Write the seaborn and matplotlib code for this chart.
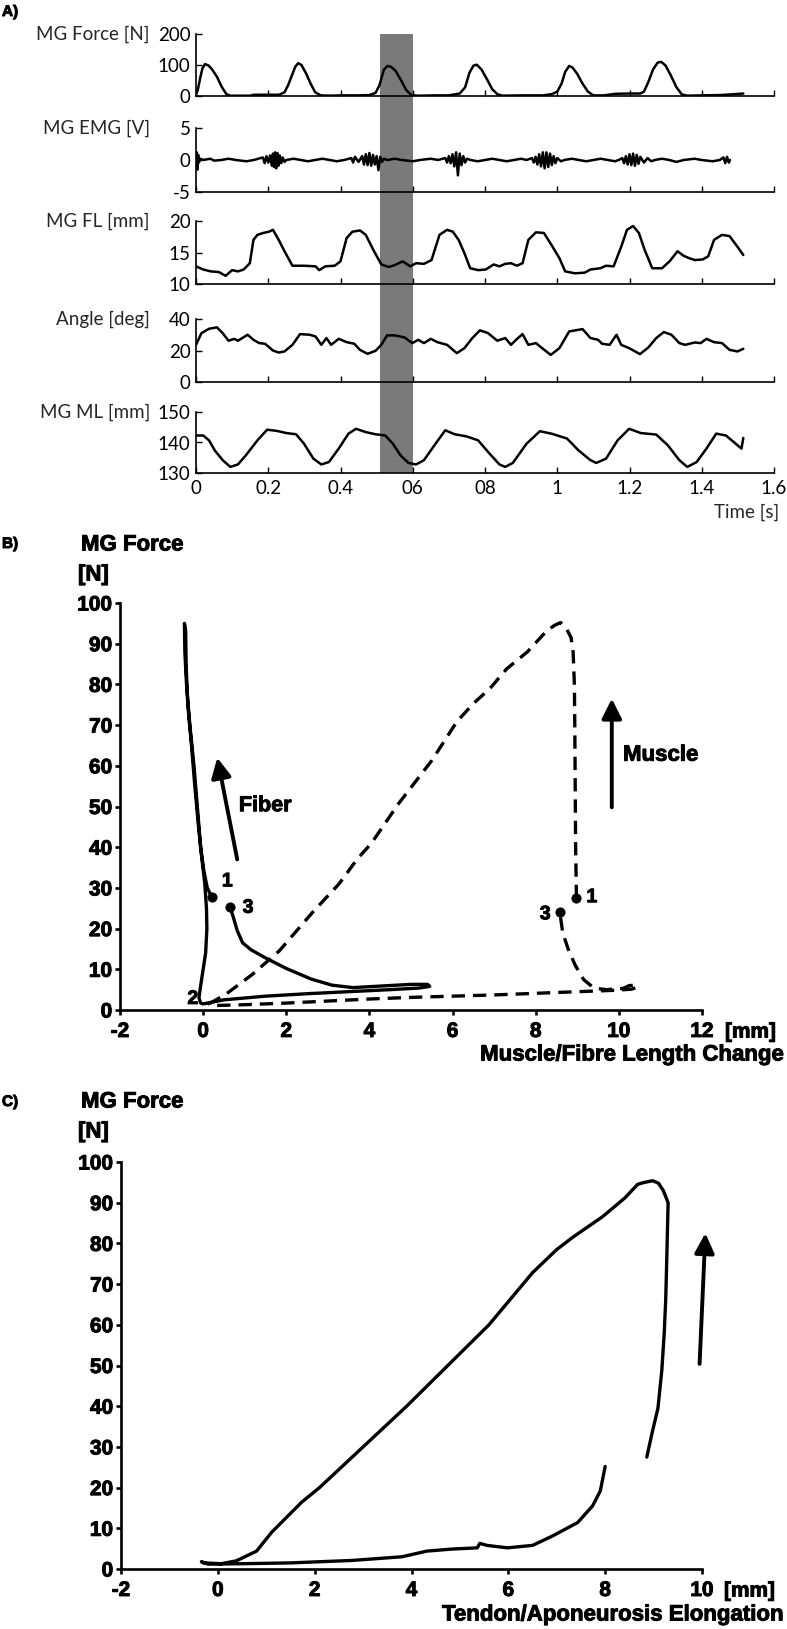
import matplotlib
matplotlib.use("Agg")
import matplotlib.pyplot as plt
import matplotlib.transforms as mtransforms
import matplotlib.patheffects as pe
from matplotlib.patches import Rectangle
import seaborn as sns

# ---------------- panel A : time series ----------------
force_time = [0.000, 0.005, 0.012, 0.018, 0.025, 0.035, 0.045, 0.058, 0.071, 0.084, 0.095, 0.12, 0.15, 0.16,
              0.20, 0.23, 0.245, 0.255, 0.265, 0.275, 0.283, 0.292, 0.305, 0.318, 0.33, 0.345, 0.37, 0.40,
              0.45, 0.48, 0.497, 0.508, 0.52, 0.53, 0.54, 0.552, 0.567, 0.582, 0.597, 0.62, 0.66, 0.70,
              0.73, 0.745, 0.757, 0.768, 0.777, 0.79, 0.805, 0.82, 0.835, 0.85, 0.90, 0.96, 0.985, 1.0,
              1.012, 1.022, 1.033, 1.042, 1.055, 1.07, 1.085, 1.10, 1.13, 1.16, 1.20, 1.23, 1.24, 1.252,
              1.265, 1.278, 1.288, 1.30, 1.315, 1.33, 1.345, 1.36, 1.40, 1.45, 1.48, 1.515]
force_n = [5, 20, 60, 90, 103, 98, 85, 62, 30, 6, 1, 1, 1, 4,
           4, 4, 12, 35, 65, 95, 106, 100, 72, 38, 12, 2, 1, 2,
           2, 3, 10, 35, 85, 97, 94, 82, 52, 19, 2, 1, 2, 2,
           8, 28, 75, 98, 101, 86, 55, 22, 5, 1, 2, 2, 6, 14,
           40, 78, 97, 92, 72, 40, 14, 2, 2, 7, 8, 8, 14, 45,
           85, 108, 110, 98, 65, 28, 5, 1, 2, 3, 5, 8]

emg_time = [0.000, 0.002, 0.004, 0.006, 0.008, 0.012, 0.02, 0.04, 0.05, 0.07, 0.09, 0.11, 0.14, 0.16,
            0.185, 0.19, 0.195, 0.20, 0.205, 0.21, 0.213, 0.216, 0.219, 0.222, 0.225, 0.228, 0.232, 0.236,
            0.24, 0.245, 0.25, 0.27, 0.29, 0.31, 0.33, 0.35, 0.37, 0.39, 0.41,
            0.43, 0.435, 0.44, 0.45, 0.46, 0.465, 0.47, 0.475, 0.48, 0.485, 0.49, 0.495, 0.50, 0.505,
            0.51, 0.515, 0.52, 0.53, 0.55, 0.57, 0.60, 0.62, 0.65, 0.67,
            0.69, 0.695, 0.70, 0.705, 0.71, 0.715, 0.72, 0.725, 0.73, 0.735, 0.74, 0.745, 0.75, 0.76,
            0.78, 0.80, 0.82, 0.84, 0.86, 0.88, 0.90, 0.915,
            0.93, 0.935, 0.94, 0.945, 0.95, 0.955, 0.96, 0.965, 0.97, 0.975, 0.98, 0.985, 0.99, 0.995,
            1.0, 1.01, 1.02, 1.04, 1.06, 1.08, 1.10, 1.12, 1.14, 1.16, 1.17,
            1.18, 1.185, 1.19, 1.195, 1.20, 1.205, 1.21, 1.215, 1.22, 1.225, 1.23, 1.24, 1.25, 1.26,
            1.27, 1.29, 1.31, 1.33, 1.35, 1.38, 1.40, 1.43, 1.45,
            1.46, 1.465, 1.47, 1.475, 1.478]
emg_volts = [0, 1.2, -1.5, 0.8, -0.4, 0.2, 0, 0.2, -0.1, 0, 0.2, 0, -0.2, 0,
             0.4, -0.5, 0.6, -0.4, 0.7, -0.9, 1.0, -1.1, 1.2, -1.3, 1.1, -0.9, 0.7, -0.5,
             0.4, -0.3, 0, 0.2, 0, -0.2, 0, 0.2, 0, -0.2, 0,
             0.3, -0.4, 0.5, -0.3, 0.6, -0.7, 0.9, -0.8, 1.1, -0.9, 0.8, -0.7, 0.6, -1.6,
             0.5, -0.3, 0.2, 0, 0.2, 0, -0.2, 0, 0.2, 0,
             0.3, -0.4, 0.6, -0.5, 0.9, -1.0, 1.2, -2.4, 1.0, -0.8, 0.6, -0.4, 0.2, 0,
             -0.2, 0, 0.2, 0, -0.2, 0, 0.2, 0,
             0.3, -0.4, 0.5, -0.7, 0.9, -1.0, 1.2, -1.3, 1.2, -1.1, 1.0, -0.8, 0.6, -0.5,
             0.3, -0.2, 0, 0.2, 0, -0.2, 0, 0.2, 0, -0.2, 0,
             0.3, -0.5, 0.6, -0.7, 0.9, -0.8, 1.0, -0.9, 0.8, -0.6, 0.5, -0.4, 0.3, -0.2,
             0, 0.2, 0, -0.3, 0, 0.2, 0, -0.2, 0,
             0.4, -0.5, 0.5, -0.4, 0]

fl_time = [0.0, 0.02, 0.041, 0.063, 0.082, 0.10, 0.116, 0.132, 0.149, 0.159, 0.17, 0.186, 0.202, 0.213,
           0.229, 0.245, 0.267, 0.299, 0.331, 0.341, 0.358, 0.384, 0.40, 0.417, 0.433, 0.454, 0.47, 0.491,
           0.513, 0.534, 0.55, 0.572, 0.593, 0.609, 0.631, 0.652, 0.674, 0.695, 0.711, 0.727, 0.743, 0.759,
           0.781, 0.802, 0.824, 0.84, 0.856, 0.872, 0.888, 0.904, 0.92, 0.941, 0.963, 0.984, 1.006, 1.022,
           1.049, 1.076, 1.092, 1.119, 1.135, 1.156, 1.177, 1.193, 1.21, 1.226, 1.242, 1.263, 1.29, 1.311,
           1.333, 1.349, 1.365, 1.381, 1.403, 1.418, 1.434, 1.456, 1.477, 1.499, 1.515]
fl_mm = [12.8, 12.3, 12.0, 11.9, 11.3, 12.2, 12.0, 12.3, 13.3, 17.0, 17.8, 18.1, 18.3, 18.6,
         17.0, 15.2, 12.9, 12.9, 12.8, 12.2, 12.8, 12.9, 13.6, 17.3, 18.3, 18.5, 17.8, 15.4,
         13.1, 12.7, 13.0, 13.6, 12.8, 13.3, 13.2, 13.8, 17.8, 18.6, 18.3, 17.0, 14.9, 12.5,
         12.2, 12.3, 13.1, 12.8, 13.2, 13.3, 12.9, 13.3, 17.0, 18.2, 18.1, 16.2, 14.1, 12.0,
         11.7, 11.8, 12.3, 12.5, 12.9, 12.8, 15.9, 18.6, 19.2, 18.1, 15.4, 12.5, 12.5, 13.6,
         15.2, 14.5, 14.1, 13.8, 13.9, 14.4, 17.0, 17.8, 17.6, 15.9, 14.6]

angle_time = [0.0, 0.015, 0.036, 0.058, 0.074, 0.09, 0.106, 0.116, 0.143, 0.159, 0.175, 0.191, 0.213, 0.229,
              0.245, 0.267, 0.288, 0.315, 0.331, 0.347, 0.361, 0.374, 0.395, 0.417, 0.438, 0.454, 0.475,
              0.497, 0.513, 0.529, 0.55, 0.577, 0.599, 0.615, 0.631, 0.65, 0.668, 0.695, 0.722, 0.743,
              0.765, 0.786, 0.808, 0.834, 0.856, 0.872, 0.886, 0.904, 0.92, 0.941, 0.958, 0.982, 1.006,
              1.033, 1.07, 1.092, 1.113, 1.124, 1.145, 1.164, 1.177, 1.199, 1.229, 1.252, 1.274, 1.295,
              1.316, 1.338, 1.354, 1.381, 1.397, 1.413, 1.434, 1.456, 1.477, 1.499, 1.515]
angle_deg = [23.6, 31, 33.8, 34.7, 31, 26.2, 27.4, 26.2, 30, 26.8, 24.7, 24.3, 20, 18.7,
             19.4, 23.6, 30.4, 30, 28.9, 23.6, 27.9, 23.6, 27.4, 25.3, 24.3, 20.4, 17.9,
             19.8, 23.6, 29.6, 29.6, 28.3, 24.7, 26.8, 24.7, 27.4, 25.3, 23.6, 18.3, 21.5,
             27.9, 32.8, 31.1, 26.2, 27.9, 23.6, 26.8, 30.4, 23.6, 24.7, 21.5, 17.2, 21.5,
             32.1, 33.6, 27.9, 26.8, 24.3, 23.6, 30, 23.6, 21.5, 17.7, 21.9, 27.9, 31.7,
             30, 24.7, 23.6, 25.1, 24.7, 27.4, 25.3, 24.7, 20.4, 19.4, 21.1]

ml_time = [0.0, 0.02, 0.036, 0.052, 0.074, 0.095, 0.116, 0.138, 0.17, 0.197, 0.224, 0.25, 0.277, 0.299,
           0.325, 0.347, 0.368, 0.395, 0.422, 0.443, 0.47, 0.497, 0.524, 0.545, 0.566, 0.588, 0.609,
           0.631, 0.663, 0.69, 0.716, 0.749, 0.781, 0.813, 0.84, 0.856, 0.877, 0.915, 0.952, 0.984,
           1.027, 1.059, 1.092, 1.108, 1.135, 1.167, 1.199, 1.231, 1.274, 1.306, 1.338, 1.36, 1.386,
           1.413, 1.44, 1.467, 1.494, 1.51, 1.515]
ml_mm = [142.3, 142.3, 140.7, 137.4, 134.2, 132.0, 132.8, 135.8, 140.7, 144.2, 143.8, 143.1, 142.7, 139.6,
         134.7, 132.8, 133.6, 138.0, 142.9, 144.5, 143.4, 142.7, 142.3, 139.6, 135.8, 133.3, 132.8,
         134.2, 139.6, 144.0, 142.7, 142.0, 140.7, 136.3, 132.8, 132.0, 133.3, 139.6, 143.7, 142.9,
         141.3, 137.4, 134.2, 133.3, 134.7, 140.7, 144.5, 143.1, 142.6, 139.1, 134.2, 132.0, 133.6,
         138.0, 142.9, 142.3, 139.6, 138.0, 141.5]

band_start, band_end = 0.51, 0.60
time_ticks = [0, 0.2, 0.4, 0.6, 0.8, 1.0, 1.2, 1.4, 1.6]
time_ticklabels = ["0", "0.2", "0.4", "06", "08", "1", "1.2", "1.4", "1.6"]

# ---------------- panel B : force vs length change ----------------
fiber_dx = [0.21, 0.10, 0.02, -0.06, -0.14, -0.22, -0.32, -0.40, -0.44, -0.45,
            -0.42, -0.41, -0.37, -0.28, -0.20, -0.12, -0.04, 0.04, 0.08, 0.09, 0.06, 0.0, -0.06, -0.10,
            -0.06, 0.0, 0.5, 1.5, 2.5, 3.5, 4.5, 5.2, 5.45, 5.4, 5.0, 4.3, 3.6, 3.1, 2.6, 2.0, 1.5,
            1.15, 0.95, 0.82, 0.72, 0.65]
fiber_force = [27.7, 30, 34, 40, 50, 60, 70, 80, 88, 95,
               93, 85, 75, 65, 55, 46, 38, 31, 25, 20, 14, 10, 6, 3,
               1.7, 1.5, 2.5, 3.4, 4.0, 4.5, 5.0, 5.4, 5.8, 6.3, 6.3, 5.9, 5.5, 6.1, 7.6, 10.2, 12.8,
               14.8, 16.5, 19.5, 23, 25.2]
muscle_dx = [8.98, 8.96, 8.95, 8.94, 8.93, 8.90, 8.85, 8.75, 8.60, 8.45, 8.25, 7.8, 7.3, 6.9, 6.5, 6.1,
             5.5, 4.7, 4.05, 3.7, 3.27, 2.65, 1.83, 1.19, 0.55, 0.14, 0.3, 1.0, 2.0, 3.0, 4.0, 5.0,
             6.0, 7.0, 8.0, 9.0, 9.8, 10.3, 10.45, 10.4, 10.25, 10.1, 9.7, 9.4, 9.15, 8.95, 8.78,
             8.65, 8.58]
muscle_force = [27.5, 40, 55, 70, 80, 88, 91.5, 93.5, 95.2, 94.5, 93, 88, 83.8, 79, 75.3, 70.8,
                61.3, 50.7, 41, 37, 31, 24.2, 14.5, 8.8, 3.9, 1.5, 1.1, 1.3, 1.7, 2.2, 2.7, 3.1,
                3.4, 3.7, 4.1, 4.5, 4.8, 5.1, 5.6, 6.1, 6.0, 5.3, 5.0, 5.4, 7.5, 11, 15,
                19, 24]
fiber_points_dx = [0.21, 0.65]
fiber_points_force = [27.7, 25.2]
muscle_points_dx = [8.98, 8.58]
muscle_points_force = [27.5, 24.0]

# ---------------- panel C : force vs tendon elongation ----------------
tendon_dx = [8.86, 8.98, 9.09, 9.17, 9.22, 9.25, 9.27, 9.29, 9.30, 9.20, 9.10, 8.98, 8.78, 8.67, 8.41,
             7.95, 7.33, 7.0, 6.5, 5.6, 3.9, 2.1, 1.73, 1.11, 0.8, 0.38, 0.07, -0.3, -0.34,
             -0.2, 0.5, 1.5, 2.77, 3.8, 4.32, 4.84, 5.36, 5.41, 5.56, 5.98, 6.5, 6.91, 7.43, 7.74,
             7.9, 8.0]
tendon_force = [27.5, 34, 39.5, 48.8, 58, 66, 75, 85, 90, 93, 94.8, 95.4, 94.9, 94.5, 91.2,
                86.6, 81.5, 78.5, 72.8, 60, 40, 20, 16.4, 9.0, 4.4, 2.0, 1.3, 1.5, 1.8,
                1.2, 1.3, 1.5, 2.1, 3.0, 4.4, 4.9, 5.2, 6.3, 5.8, 5.2, 5.8, 8.1, 11.4, 15.5,
                19.2, 25.2]

force_ticks = list(range(0, 101, 10))
b_xticks = [-2, 0, 2, 4, 6, 8, 10, 12]
c_xticks = [-2, 0, 2, 4, 6, 8, 10]

# ---------------- figure ----------------
sns.set_theme(style="ticks")
plt.rcParams["font.family"] = ["Lato", "DejaVu Sans"]
BOLD = ["Liberation Sans", "DejaVu Sans"]
HEAVY = [pe.withStroke(linewidth=0.7, foreground="black")]

W, H = 787, 1629
fig = plt.figure(figsize=(W / 100, H / 100), dpi=100)


def box(left, top, right, bottom):
    return [left / W, 1 - bottom / H, (right - left) / W, (bottom - top) / H]


def line(ax, x, y, lw, **kw):
    sns.lineplot(x=x, y=y, ax=ax, color="black", lw=lw, estimator=None, sort=False, **kw)


# panel A
a_specs = [
    (box(196, 34, 774, 96), force_time, force_n, (0, 200), [0, 100, 200], "MG Force [N]"),
    (box(196, 128, 774, 192), emg_time, emg_volts, (-5, 5), [-5, 0, 5], "MG EMG [V]"),
    (box(196, 221, 774, 284), fl_time, fl_mm, (10, 20), [10, 15, 20], "MG FL [mm]"),
    (box(196, 319, 774, 382), angle_time, angle_deg, (0, 40), [0, 20, 40], "Angle [deg]"),
    (box(196, 412, 774, 473), ml_time, ml_mm, (130, 150), [130, 140, 150], "MG ML [mm]"),
]
axes_a = []
for pos, tx, ty, ylim, yticks, label in a_specs:
    ax = fig.add_axes(pos)
    ax.set_facecolor("none")
    line(ax, tx, ty, 1.8)
    ax.set_xlim(0, 1.6)
    ax.set_ylim(*ylim)
    ax.set_yticks(yticks, labels=[str(v) for v in yticks])
    ax.set_xticks(time_ticks, labels=time_ticklabels)
    ax.tick_params(direction="in", length=4.5, width=1.0, labelsize=13.5, pad=4, colors="black")
    ax.tick_params(axis="x", labelbottom=False)
    sns.despine(ax=ax)
    for s in ("left", "bottom"):
        ax.spines[s].set_linewidth(1.2)
        ax.spines[s].set_color("black")
    ax.set_xlabel("")
    ax.set_ylabel("")
    tr = mtransforms.blended_transform_factory(fig.transFigure, ax.transData)
    ax.text(150 / W, yticks[-1], label, transform=tr, ha="right", va="center", fontsize=13.5)
    axes_a.append(ax)

axes_a[-1].tick_params(axis="x", labelbottom=True, pad=5)
fig.text(779 / W, 1 - 512 / H, "Time [s]", ha="right", va="center", fontsize=13.5)

band_tr = mtransforms.blended_transform_factory(axes_a[-1].transData, fig.transFigure)
fig.add_artist(Rectangle((band_start, 1 - 473 / H), band_end - band_start, (473 - 34) / H,
                         transform=band_tr, facecolor="#7a7a7a", edgecolor="none", zorder=-1))


def style_xy(ax, xticks):
    ax.set_ylim(0, 100)
    ax.set_yticks(force_ticks, labels=[str(v) for v in force_ticks])
    ax.set_xticks(xticks, labels=[str(v) for v in xticks])
    ax.set_xlim(xticks[0], xticks[-1])
    sns.despine(ax=ax)
    for s in ("left", "bottom"):
        ax.spines[s].set_linewidth(1.9)
        ax.spines[s].set_color("black")
    ax.tick_params(direction="out", length=3.6, width=1.9, colors="black")
    ax.tick_params(axis="y", pad=2)
    ax.tick_params(axis="x", pad=5)
    for lbl in ax.get_xticklabels() + ax.get_yticklabels():
        lbl.set_fontsize(15)
        lbl.set_fontweight("bold")
        lbl.set_family(BOLD)
        lbl.set_path_effects(HEAVY)
    ax.set_xlabel("")
    ax.set_ylabel("")


def arrow(ax, tail, tip):
    ax.annotate("", xy=tip, xytext=tail, annotation_clip=False,
                arrowprops=dict(arrowstyle="-|>,head_length=0.6,head_width=0.3", mutation_scale=20,
                                lw=2.8, color="black", shrinkA=0, shrinkB=0))


txt = dict(fontweight="bold", family=BOLD, color="black", path_effects=HEAVY)

# panel B
ax_b = fig.add_axes(box(120, 603, 702, 1010))
line(ax_b, fiber_dx, fiber_force, 2.4)
line(ax_b, muscle_dx, muscle_force, 2.4, linestyle=(0, (4, 2.4)))
sns.scatterplot(x=fiber_points_dx + muscle_points_dx, y=fiber_points_force + muscle_points_force,
                ax=ax_b, color="black", s=45, edgecolor="black", zorder=5)
style_xy(ax_b, b_xticks)
for s, xy, ha in [("1", (0.45, 31.5), "left"), ("3", (0.95, 25.0), "left"), ("2", (-0.12, 2.6), "right"),
                  ("1", (9.22, 27.6), "left"), ("3", (8.36, 23.4), "right")]:
    ax_b.text(*xy, s, ha=ha, va="center", fontsize=14, **txt)
arrow(ax_b, (0.82, 37), (0.34, 62))
arrow(ax_b, (9.83, 49.8), (9.83, 76.5))
ax_b.text(0.86, 50.2, "Fiber", ha="left", va="center", fontsize=15.5, **txt)
ax_b.text(10.1, 62.6, "Muscle", ha="left", va="center", fontsize=16, **txt)

fig.text(2 / W, 1 - 544 / H, "B)", ha="left", va="center", fontsize=11, **txt)
fig.text(81 / W, 1 - 545 / H, "MG Force", ha="left", va="center", fontsize=16, **txt)
fig.text(78 / W, 1 - 575 / H, "[N]", ha="left", va="center", fontsize=16, **txt)
fig.text(725 / W, 1 - 1032 / H, "[mm]", ha="left", va="center", fontsize=15, **txt)
fig.text(783 / W, 1 - 1055 / H, "Muscle/Fibre Length Change", ha="right", va="center", fontsize=16, **txt)

# panel C
ax_c = fig.add_axes(box(121, 1162, 702, 1569))
line(ax_c, tendon_dx, tendon_force, 2.4)
style_xy(ax_c, c_xticks)
arrow(ax_c, (9.95, 50.4), (10.07, 82.5))

fig.text(2 / W, 1 - 1102 / H, "C)", ha="left", va="center", fontsize=11, **txt)
fig.text(81 / W, 1 - 1102 / H, "MG Force", ha="left", va="center", fontsize=16, **txt)
fig.text(78 / W, 1 - 1132 / H, "[N]", ha="left", va="center", fontsize=16, **txt)
fig.text(724 / W, 1 - 1591 / H, "[mm]", ha="left", va="center", fontsize=15, **txt)
fig.text(783 / W, 1 - 1615 / H, "Tendon/Aponeurosis Elongation", ha="right", va="center", fontsize=16, **txt)

fig.text(2 / W, 1 - 12 / H, "A)", ha="left", va="center", fontsize=11, **txt)

fig.savefig("out.png", dpi=100)
plt.close(fig)
